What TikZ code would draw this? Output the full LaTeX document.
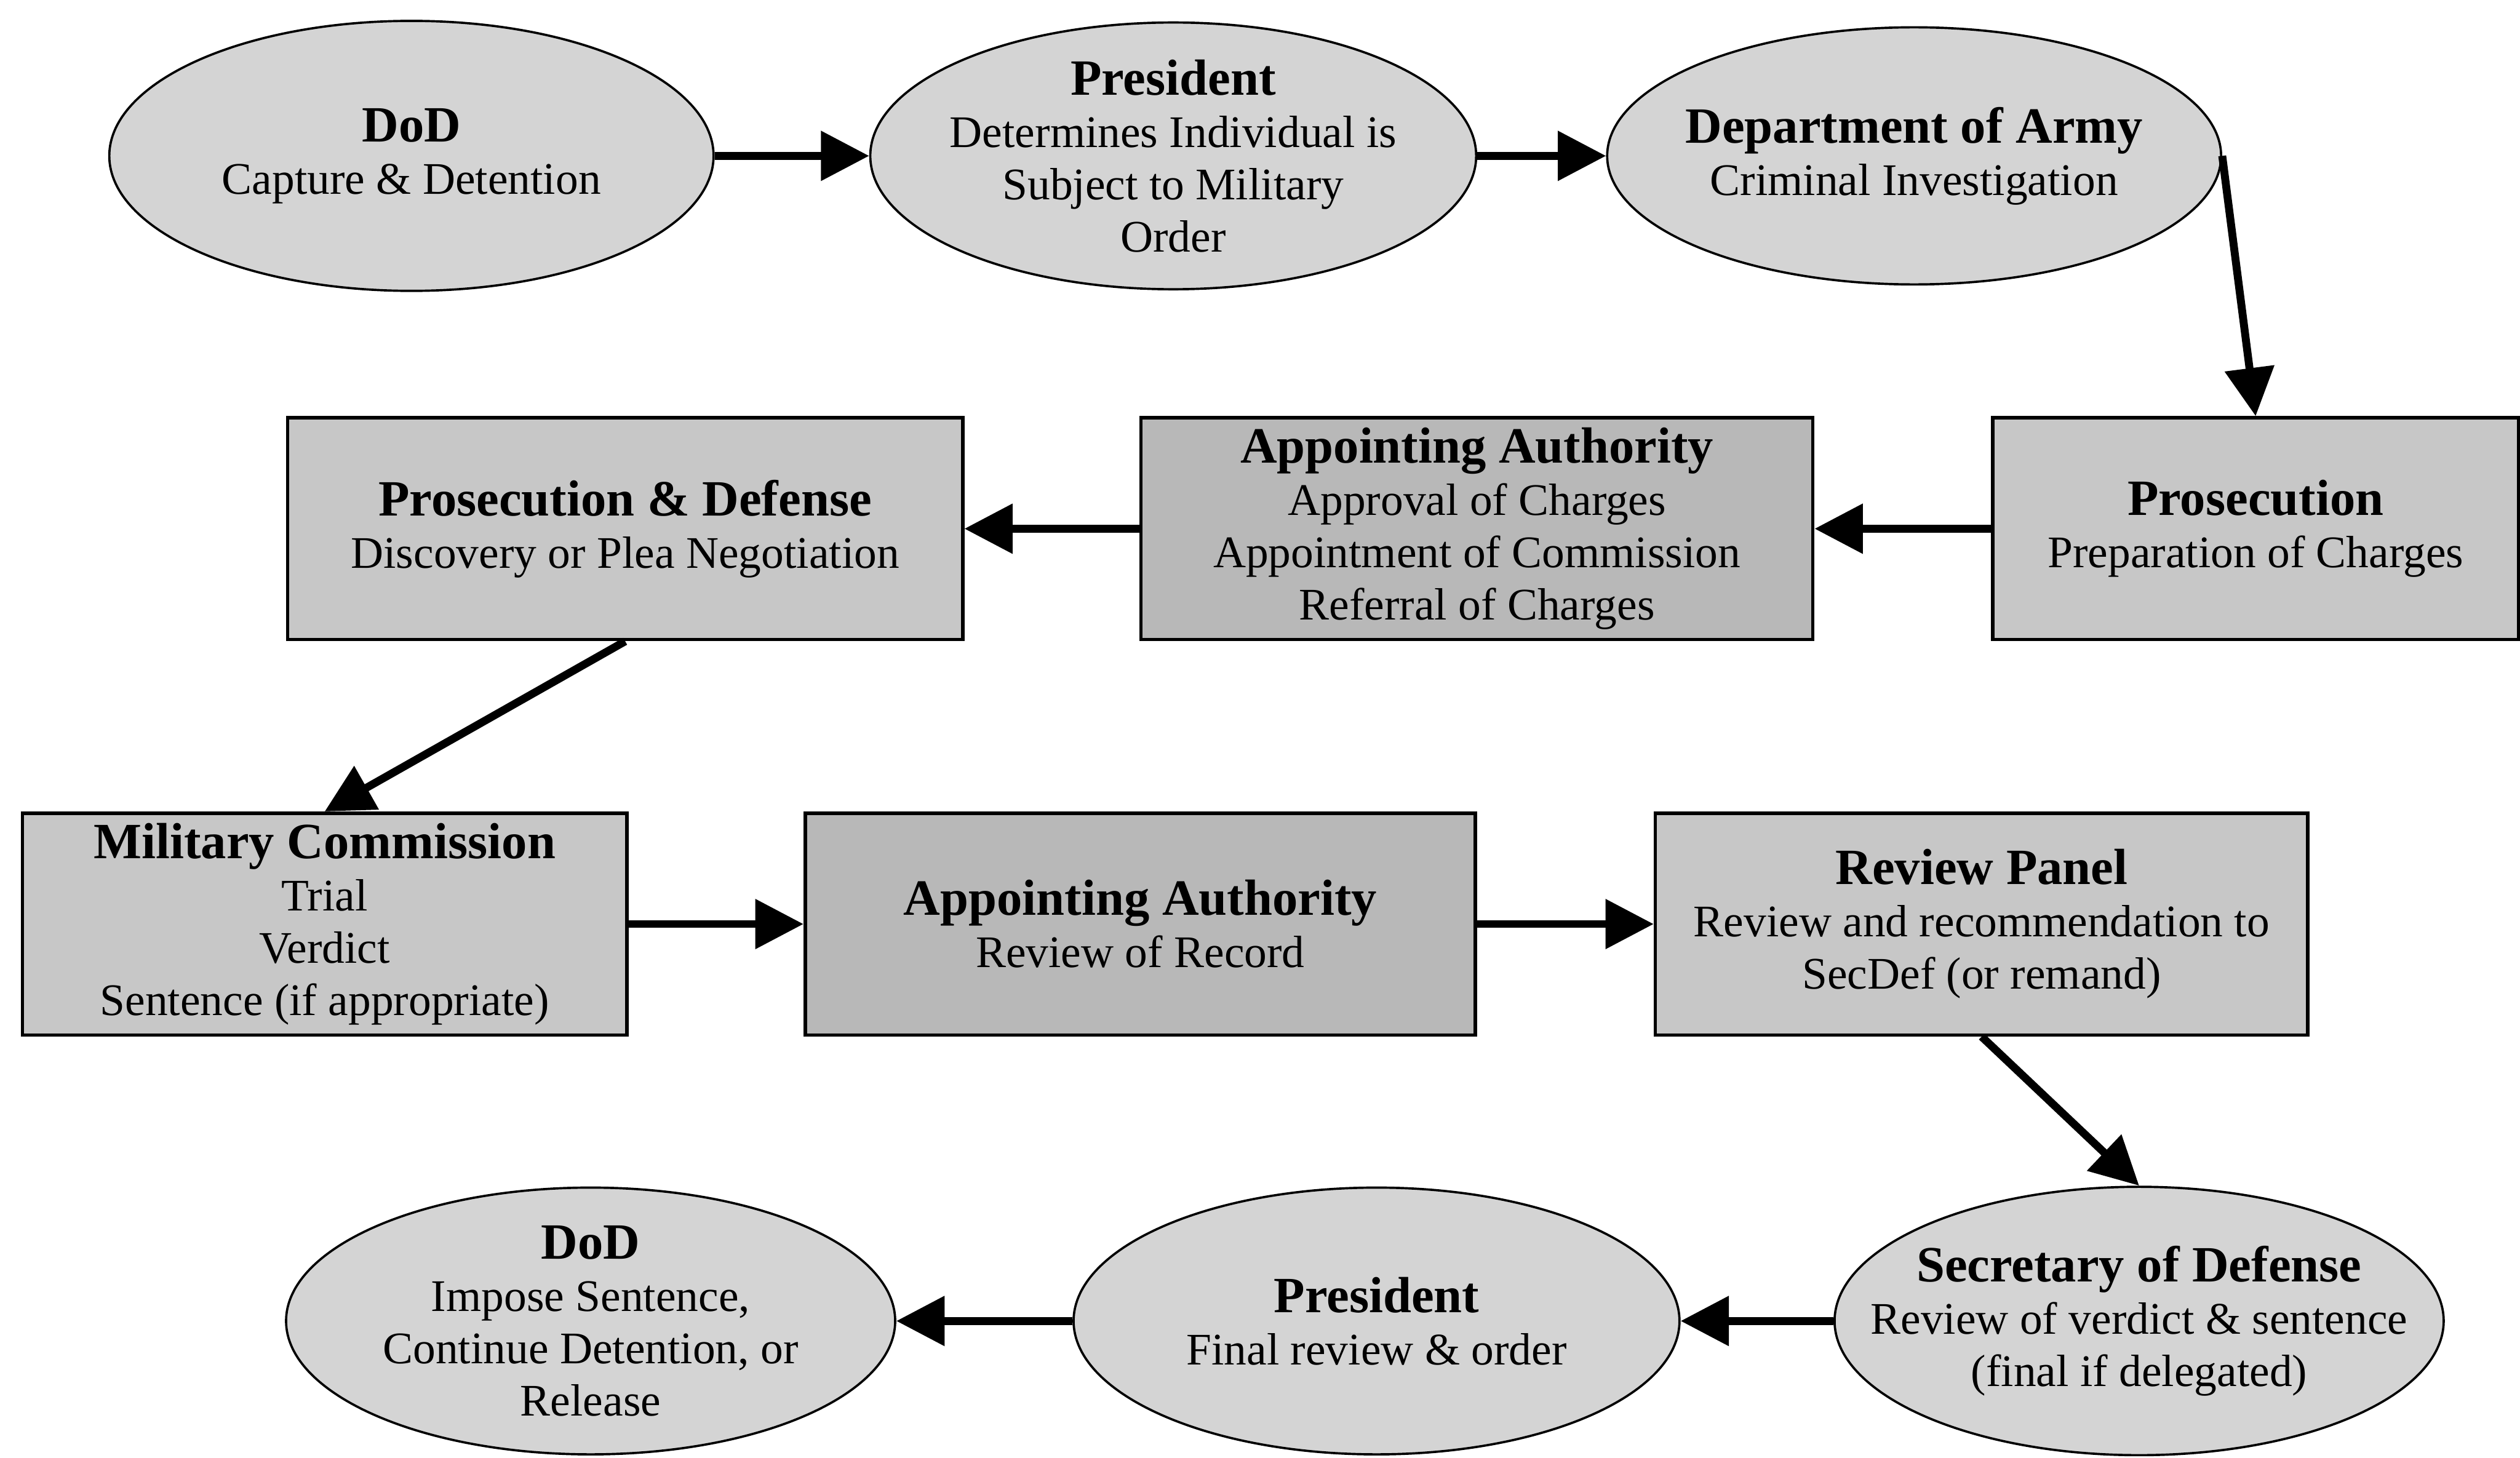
\documentclass[tikz,border=0pt]{standalone}
\usepackage{fontspec}
\setmainfont{Liberation Serif}
\usetikzlibrary{arrows.meta,shapes.geometric}
\definecolor{ovalfill}{gray}{0.83}
\definecolor{boxfill}{gray}{0.78}
\definecolor{boxdark}{gray}{0.72}
\newcommand{\stagehead}[1]{{\fontsize{18}{20}\selectfont\bfseries #1}\\}
\tikzset{
  oval/.style={ellipse, draw=black, line width=0.8pt, fill=ovalfill,
              inner xsep=-2cm, inner ysep=-1.2cm, align=center,
              font=\fontsize{16}{18.5}\selectfont},
  stage/.style={rectangle, draw=black, line width=1.2pt, fill=boxfill,
              inner sep=0pt, align=center, minimum height=2.76cm,
              font=\fontsize{16}{18.5}\selectfont},
  darkstage/.style={stage, fill=boxdark},
  flow/.style={-{Triangle[length=6mm,width=6mm]}, line width=2.8pt, black},
}
\begin{document}
\begin{tikzpicture}
  \useasboundingbox (0,0) rectangle (31.36,-18.14);
  \node[oval, minimum width=7.52cm, minimum height=3.36cm] (dodA) at (5.12,-1.94)
    {\stagehead{DoD}Capture \& Detention};
  \node[oval, minimum width=7.54cm, minimum height=3.32cm] (presA) at (14.60,-1.94)
    {\stagehead{President}Determines Individual is\\Subject to Military\\Order};
  \node[oval, minimum width=7.64cm, minimum height=3.2cm] (army) at (23.82,-1.94)
    {\stagehead{Department of Army}Criminal Investigation};

  \node[stage, minimum width=6.54cm] (pros) at (28.07,-6.58)
    {\stagehead{Prosecution}Preparation of Charges};
  \node[darkstage, minimum width=8.36cm] (apptA) at (18.38,-6.58)
    {\stagehead{Appointing Authority}Approval of Charges\\Appointment of Commission\\Referral of Charges};
  \node[stage, minimum width=8.40cm] (prosdef) at (7.78,-6.58)
    {\stagehead{Prosecution \& Defense}Discovery or Plea Negotiation};

  \node[stage, minimum width=7.52cm] (comm) at (4.04,-11.50)
    {\stagehead{Military Commission}Trial\\Verdict\\Sentence (if appropriate)};
  \node[darkstage, minimum width=8.34cm] (apptB) at (14.19,-11.50)
    {\stagehead{Appointing Authority}Review of Record};
  \node[stage, minimum width=8.12cm] (panel) at (24.66,-11.50)
    {\stagehead{Review Panel}Review and recommendation to\\SecDef (or remand)};

  \node[oval, minimum width=7.58cm, minimum height=3.34cm] (secdef) at (26.62,-16.44)
    {\stagehead{Secretary of Defense}Review of verdict \& sentence\\(final if delegated)};
  \node[oval, minimum width=7.54cm, minimum height=3.32cm] (presB) at (17.13,-16.44)
    {\stagehead{President}Final review \& order};
  \node[oval, minimum width=7.58cm, minimum height=3.32cm] (dodB) at (7.35,-16.44)
    {\stagehead{DoD}Impose Sentence,\\Continue Detention, or\\Release};

  \draw[flow] (dodA) -- (presA);
  \draw[flow] (presA) -- (army);
  \draw[flow] (army.east) -- (pros.north);
  \draw[flow] (pros) -- (apptA);
  \draw[flow] (apptA) -- (prosdef);
  \draw[flow] (prosdef.south) -- (comm.north);
  \draw[flow] (comm) -- (apptB);
  \draw[flow] (apptB) -- (panel);
  \draw[flow] (panel.south) -- (secdef.north);
  \draw[flow] (secdef) -- (presB);
  \draw[flow] (presB) -- (dodB);
\end{tikzpicture}
\end{document}
